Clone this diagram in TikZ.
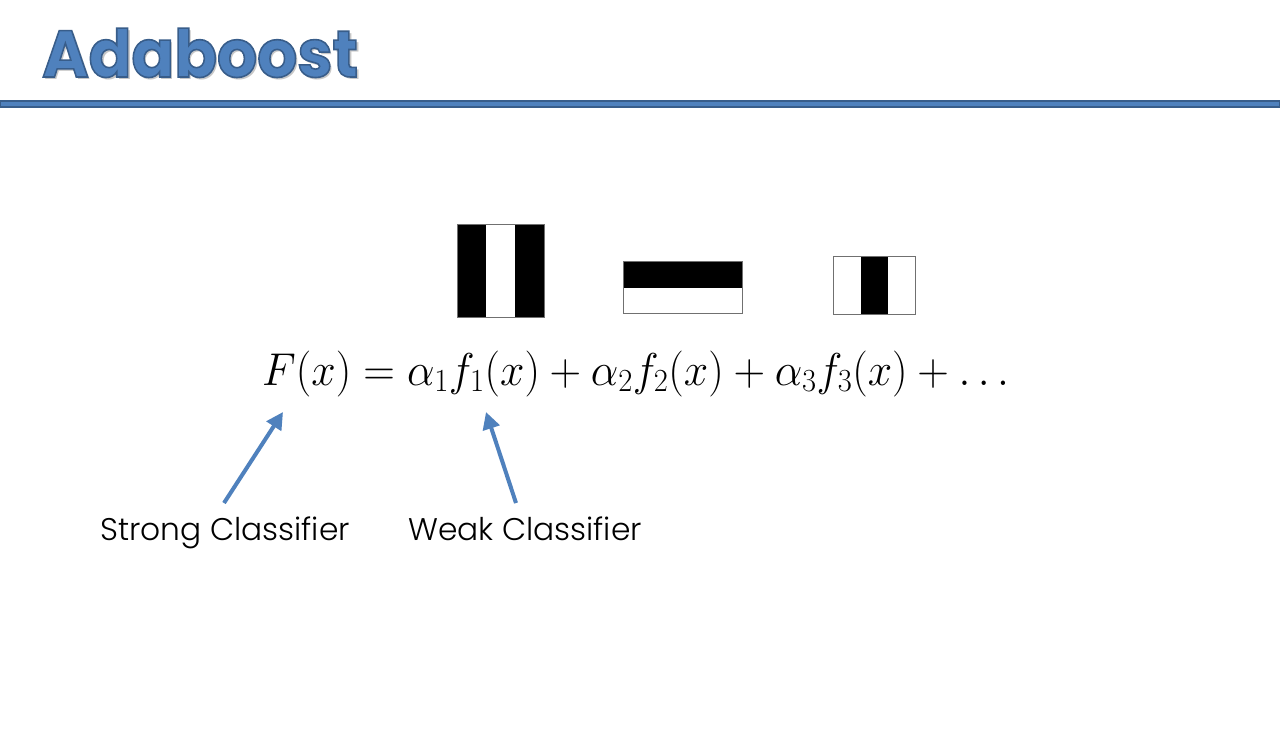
\RequirePackage{fix-cm}
\documentclass[tikz,border=0pt]{standalone}
\usepackage{fontspec}
\usepackage{graphicx}
\newfontfamily\titlefont{Poppins}
\IfFontExistsTF{Poppins Light}{\newfontfamily\lblfont{Poppins Light}}{\newfontfamily\lblfont{Poppins}}
\usetikzlibrary{arrows.meta}
\definecolor{ppblue}{HTML}{4F81BD}
\definecolor{ppdark}{HTML}{385D8A}
\definecolor{boxgray}{HTML}{707070}
\tikzset{
  titletext/.style={anchor=base west, inner sep=0pt, font=\titlefont\bfseries\fontsize{66}{70}\selectfont},
  lbl/.style={anchor=base west, inner sep=0pt, font=\lblfont\fontsize{31.3}{36}\selectfont},
  arr/.style={draw=ppblue, line width=4pt, -{Triangle[length=17pt,width=17pt]}},
  haar/.style={draw=boxgray, line width=1pt},
}
\begin{document}
\begin{tikzpicture}[x=1pt,y=-1pt]
\useasboundingbox (0,0) rectangle (1280,738);
\fill[white] (0,0) rectangle (1280,738);
% title with shadow
\node[titletext, text=black!22] at (44.5,79.5) {\scalebox{0.955}[1]{Adaboost}};
\node (title) [titletext, text=ppblue] at (42,77) {\scalebox{0.955}[1]{\special{pdf:literal direct 2 Tr 1.6 w 0.22 0.365 0.54 RG}Adaboost\special{pdf:literal direct 0 Tr}}};
% rule
\filldraw[fill=ppblue, draw=ppdark, line width=1.3pt] (0,101) rectangle (1280,107);
% haar features
\fill[black] (457,225) rectangle (544,317);
\fill[white] (486,225) rectangle (515,317);
\draw[haar] (457,225) rectangle (544,317);
\fill[black] (623,262) rectangle (742,288);
\draw[haar] (623,262) rectangle (742,313);
\fill[black] (861,257) rectangle (888,314);
\draw[haar] (833,257) rectangle (915,314);
% equation
\node (eq) [anchor=base west, inner sep=0pt, font=\fontsize{46}{50}\selectfont] at (262,385)
  {\scalebox{0.952}[1]{$F(x)=\alpha_1 f_1(x)+\alpha_2 f_2(x)+\alpha_3 f_3(x)+\ldots$}};
% labels
\node (strong) [lbl] at (100,540) {Strong Classifier};
\node (weak) [lbl] at (408,540) {Weak Classifier};
\coordinate (strongtail) at (224,503);
\coordinate (strongtip) at (283,412);
\coordinate (weaktail) at (516,503);
\coordinate (weaktip) at (486,412);
\draw[arr] (strongtail) -- (strongtip);
\draw[arr] (weaktail) -- (weaktip);
\end{tikzpicture}
\end{document}
